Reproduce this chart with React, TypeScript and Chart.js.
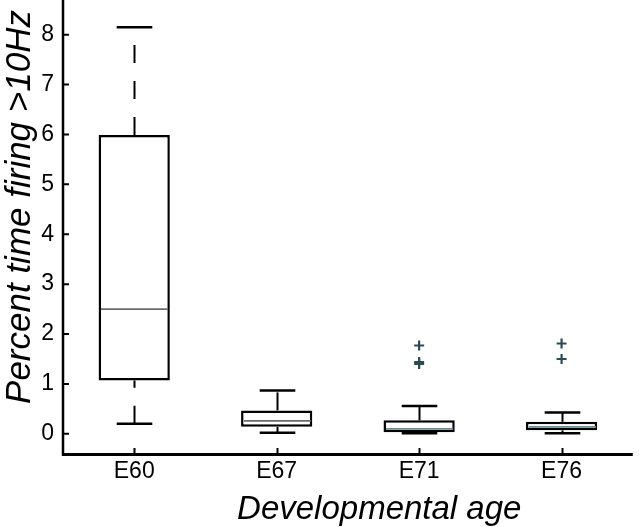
import React, { useEffect, useRef } from 'react';
import { Chart, registerables } from 'chart.js';

Chart.register(...registerables);

const categories = ['E60', 'E67', 'E71', 'E76'];
const whiskerLow = [0.2, 0.02, 0.01, 0.01];
const quartile1 = [1.07, 0.14, 0.03, 0.07];
const medians = [2.5, 0.26, 0.1, 0.14];
const quartile3 = [5.99, 0.47, 0.27, 0.24];
const whiskerHigh = [8.15, 0.87, 0.56, 0.43];
const outlierCategories = ['E71', 'E71', 'E71', 'E76', 'E76'];
const outlierValues = [1.77, 1.44, 1.4, 1.81, 1.5];
const yTickValues = [0, 1, 2, 3, 4, 5, 6, 7, 8];
const medianColors = ['#6b6b6b', '#6b6b6b', '#6a8c94', '#6a8c94'];
const xTitle = 'Developmental age';
const yTitle = 'Percent time firing >10Hz';

const FONT = '"Liberation Sans", Arial, sans-serif';

const boxPlugin = {
  id: 'boxParts',
  afterDatasetsDraw(chart: any) {
    const { ctx, scales } = chart;
    const x = scales.x;
    const y = scales.y;
    const step = x.getPixelForValue(1) - x.getPixelForValue(0);
    ctx.save();
    categories.forEach((_, i) => {
      const cx = Math.round(x.getPixelForValue(i)) + 0.5;
      const half = step * 0.25;
      const capHalf = step * 0.125;
      const yLow = y.getPixelForValue(whiskerLow[i]);
      const yQ1 = y.getPixelForValue(quartile1[i]);
      const yQ3 = y.getPixelForValue(quartile3[i]);
      const yHigh = y.getPixelForValue(whiskerHigh[i]);
      const yMed = y.getPixelForValue(medians[i]);
      ctx.strokeStyle = '#000';
      ctx.lineWidth = 2;
      ctx.setLineDash([18, 18]);
      ctx.beginPath();
      ctx.moveTo(cx, yLow);
      ctx.lineTo(cx, yQ1);
      ctx.stroke();
      ctx.beginPath();
      ctx.moveTo(cx, yQ3);
      ctx.lineTo(cx, yHigh);
      ctx.stroke();
      ctx.setLineDash([]);
      ctx.lineWidth = 2.5;
      ctx.beginPath();
      ctx.moveTo(cx - capHalf, yLow);
      ctx.lineTo(cx + capHalf, yLow);
      ctx.moveTo(cx - capHalf, yHigh);
      ctx.lineTo(cx + capHalf, yHigh);
      ctx.stroke();
      ctx.strokeStyle = medianColors[i];
      ctx.lineWidth = 1.6;
      ctx.beginPath();
      ctx.moveTo(cx - half + 2, yMed);
      ctx.lineTo(cx + half - 2, yMed);
      ctx.stroke();
    });
    ctx.restore();
  },
  afterDraw(chart: any) {
    const { ctx, chartArea, scales } = chart;
    const x = scales.x;
    const y = scales.y;
    ctx.save();
    ctx.strokeStyle = '#000';
    ctx.lineWidth = 2.5;
    ctx.beginPath();
    ctx.moveTo(chartArea.left, 0);
    ctx.lineTo(chartArea.left, chartArea.bottom + 1.5);
    ctx.stroke();
    ctx.lineWidth = 3;
    ctx.beginPath();
    ctx.moveTo(chartArea.left - 1, chartArea.bottom + 0.5);
    ctx.lineTo(chartArea.right, chartArea.bottom + 0.5);
    ctx.stroke();
    ctx.lineWidth = 2;
    ctx.beginPath();
    y.ticks.forEach((t: any) => {
      const py = y.getPixelForValue(t.value);
      ctx.moveTo(chartArea.left, py);
      ctx.lineTo(chartArea.left + 6, py);
    });
    categories.forEach((_, i) => {
      const px = Math.round(x.getPixelForValue(i)) + 0.5;
      ctx.moveTo(px, chartArea.bottom);
      ctx.lineTo(px, chartArea.bottom - 6);
    });
    ctx.stroke();
    ctx.fillStyle = '#000';
    ctx.font = 'italic 33px ' + FONT;
    ctx.textAlign = 'center';
    ctx.textBaseline = 'alphabetic';
    const width = chartArea.right - chartArea.left;
    ctx.fillText(xTitle, chartArea.left + width * 0.555, 519);
    ctx.translate(30, 207);
    ctx.rotate(-Math.PI / 2);
    ctx.font = 'italic 35px ' + FONT;
    ctx.fillText(yTitle, 0, 0);
    ctx.restore();
  },
};

export default function App() {
  const ref = useRef<HTMLCanvasElement | null>(null);
  useEffect(() => {
    if (!ref.current) return;
    const chart = new Chart(ref.current, {
      type: 'bar',
      data: {
        labels: categories,
        datasets: [
          {
            type: 'bar',
            data: quartile1.map((q, i) => [q, quartile3[i]]) as any,
            backgroundColor: '#ffffff',
            borderColor: '#000000',
            borderWidth: 2.5,
            borderSkipped: false,
            barPercentage: 0.5,
            categoryPercentage: 1.0,
          },
          {
            type: 'line',
            data: outlierValues.map((v, i) => ({ x: outlierCategories[i], y: v })) as any,
            showLine: false,
            pointStyle: 'cross',
            pointRadius: 5,
            pointBorderWidth: 2.2,
            pointBorderColor: '#2c4c54',
            pointBackgroundColor: '#2c4c54',
          } as any,
        ],
      },
      options: {
        responsive: false,
        animation: false,
        devicePixelRatio: 1,
        layout: { padding: 0 },
        plugins: { legend: { display: false }, tooltip: { enabled: false } },
        scales: {
          x: {
            type: 'category',
            offset: true,
            grid: { display: false, drawTicks: false, tickLength: 0 },
            border: { display: false },
            ticks: { color: '#000', font: { family: FONT, size: 23 }, padding: 4 },
            afterFit: (s: any) => {
              s.height = 73;
              s.paddingLeft = 0;
              s.paddingRight = 0;
            },
          },
          y: {
            type: 'linear',
            min: -0.404,
            max: 8.55,
            grid: { display: false, drawTicks: false, tickLength: 0 },
            border: { display: false },
            ticks: { color: '#000', font: { family: FONT, size: 23 }, padding: 9 },
            afterBuildTicks: (s: any) => {
              s.ticks = yTickValues.map((v) => ({ value: v }));
            },
            afterFit: (s: any) => {
              s.width = 63;
              s.paddingTop = 0;
              s.paddingBottom = 0;
            },
          },
        },
      },
      plugins: [boxPlugin],
    });
    return () => chart.destroy();
  }, []);
  return (
    <div style={{ position: 'fixed', left: 0, top: 0, width: 640, height: 527, background: '#fff' }}>
      <canvas ref={ref} width={640} height={527} style={{ display: 'block' }} />
    </div>
  );
}
